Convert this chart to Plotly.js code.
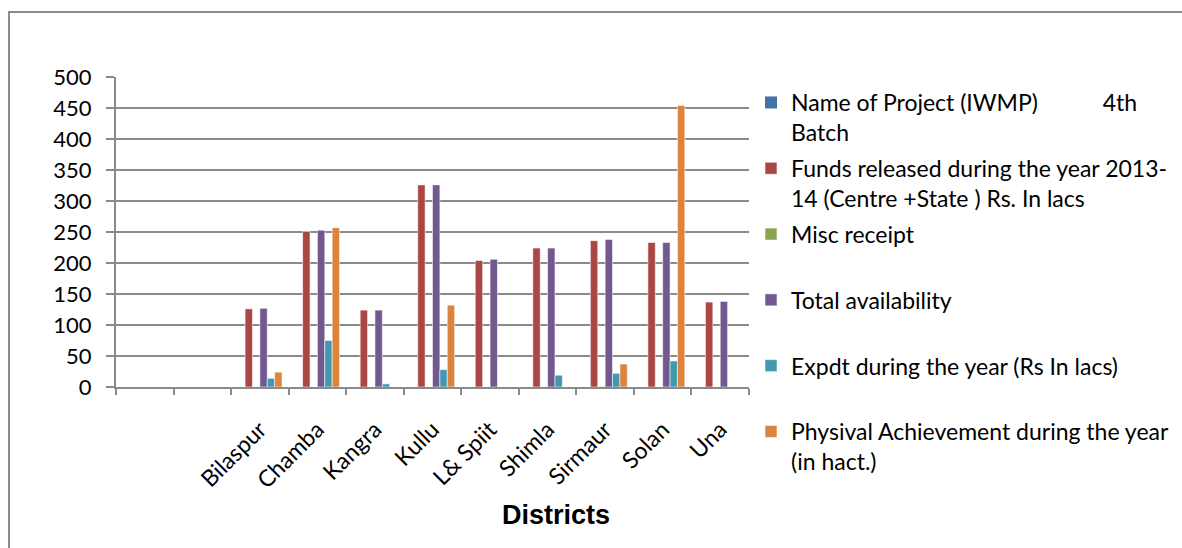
<!DOCTYPE html>
<html>
<head>
<meta charset="utf-8">
<script src="https://cdn.plot.ly/plotly-3.0.1.min.js"></script>
<style>html,body{margin:0;padding:0;background:#fff;} #chart{width:1182px;height:548px;}</style>
</head>
<body>
<div id="chart"></div>
<script>
// Categories (two leading empty slots as in the source sheet)
var districts = ["\u200b", "\u200b\u200b", "Bilaspur", "Chamba", "Kangra", "Kullu", "L& Spiit", "Shimla", "Sirmaur", "Solan", "Una"];

// Series names
var seriesNames = [
  "Name of Project (IWMP)\u00a0\u00a0\u00a0\u00a0\u00a0\u00a0\u00a0\u00a0\u00a0\u00a0 4th Batch",
  "Funds released during the year 2013-14 (Centre +State ) Rs. In lacs",
  "Misc receipt",
  "Total availability",
  "Expdt during the year (Rs In lacs)",
  "Physival Achievement during the year (in hact.)"
];
// Legend labels wrapped as in the picture
var legendLabels = [
  "Name of Project (IWMP)\u00a0\u00a0\u00a0\u00a0\u00a0\u00a0\u00a0\u00a0\u00a0\u00a0 4th<br>Batch",
  "Funds released during the year 2013-<br>14 (Centre +State ) Rs. In lacs",
  "Misc receipt<br>\u00a0",
  "Total availability<br>\u00a0",
  "Expdt during the year (Rs In lacs)<br>\u00a0",
  "Physival Achievement during the year<br>(in hact.)"
];

// Values per series
var projectName   = [0, 0, 0, 0, 0, 0, 0, 0, 0, 0, 0];
var fundsReleased = [0, 0, 126, 251, 124, 326, 204, 224, 236, 233, 137];
var miscReceipt   = [0, 0, 0, 0, 0, 0, 0, 0, 1, 0, 0];
var totalAvail    = [0, 0, 127, 253, 124, 326, 206, 224, 238, 233, 138];
var expdt         = [0, 0, 14, 75, 5, 28, 0, 19, 22, 42, 0];
var physical      = [0, 0, 24, 257, 0, 132, 0, 0, 37, 454, 0];

var yTicks = [0, 50, 100, 150, 200, 250, 300, 350, 400, 450, 500];

var colors = ["#4572A7", "#AA4643", "#89A54E", "#71588F", "#4198AF", "#DB843D"];
var allSeries = [projectName, fundsReleased, miscReceipt, totalAvail, expdt, physical];

var traces = allSeries.map(function (vals, i) {
  return {
    type: "bar",
    x: districts,
    y: vals,
    name: legendLabels[i],
    legendgroup: "g" + i,
    marker: {color: colors[i], line: {color: "rgba(255,255,255,0.55)", width: (i === 0 ? 0 : 1)}},
    hoverinfo: "skip"
  };
});

var fontFam = "Lato, 'Open Sans', sans-serif";
var gridCol = "#8a8a8a";

var L = 116, R = 749, T = 77, B = 387;
var W = R - L, H = B - T;
function px(x) { return (x - L) / W; }
function py(y) { return (B - y) / H; }

var layout = {
  width: 1182, height: 548,
  margin: {l: L, r: 1182 - R, t: T, b: 548 - B, pad: 0, autoexpand: false},
  paper_bgcolor: "#fff", plot_bgcolor: "#fff",
  barmode: "group", bargap: 0.23, bargroupgap: 0,
  font: {family: fontFam, size: 23, color: "#000"},
  showlegend: true,
  legend: {
    x: 751 / 1182, y: 1 - 81 / 548, xanchor: "left", yanchor: "top",
    xref: "container", yref: "container", maxheight: 520,
    font: {family: fontFam, size: 23, color: "#000"},
    traceorder: "grouped", tracegroupgap: 3, valign: "top",
    bgcolor: "rgba(0,0,0,0)", borderwidth: 0
  },
  xaxis: {
    type: "category",
    showgrid: false,
    showline: true, linecolor: gridCol, linewidth: 2,
    ticks: "outside", ticklen: 6, tickwidth: 2, tickcolor: gridCol,
    tickson: "boundaries",
    tickangle: -45,
    ticklabelstandoff: 18,
    tickfont: {family: fontFam, size: 23, color: "#000"},
    zeroline: false, fixedrange: true
  },
  yaxis: {
    range: [0, 500],
    tickvals: yTicks,
    ticktext: yTicks.map(String),
    showgrid: true, gridcolor: gridCol, gridwidth: 2,
    showline: true, linecolor: gridCol, linewidth: 2,
    ticks: "outside", ticklen: 8, tickwidth: 2, tickcolor: gridCol,
    ticklabelstandoff: 10,
    tickfont: {family: fontFam, size: 22, color: "#000"},
    zeroline: false, fixedrange: true
  },
  annotations: [{
    text: "<b>Districts</b>", showarrow: false,
    xref: "paper", yref: "paper", x: px(556), y: py(515),
    xanchor: "center", yanchor: "middle",
    font: {family: "'Liberation Sans', Arial, sans-serif", size: 27, color: "#000"}
  }],
  shapes: [
    {type: "line", xref: "paper", yref: "paper", x0: px(9), x1: px(9), y0: py(12), y1: py(560),
     line: {color: "#8c8c8c", width: 2}},
    {type: "line", xref: "paper", yref: "paper", x0: px(8), x1: px(1200), y0: py(12), y1: py(12),
     line: {color: "#8c8c8c", width: 2}}
  ]
};

Plotly.newPlot("chart", traces, layout, {staticPlot: true, displayModeBar: false});
</script>
</body>
</html>
